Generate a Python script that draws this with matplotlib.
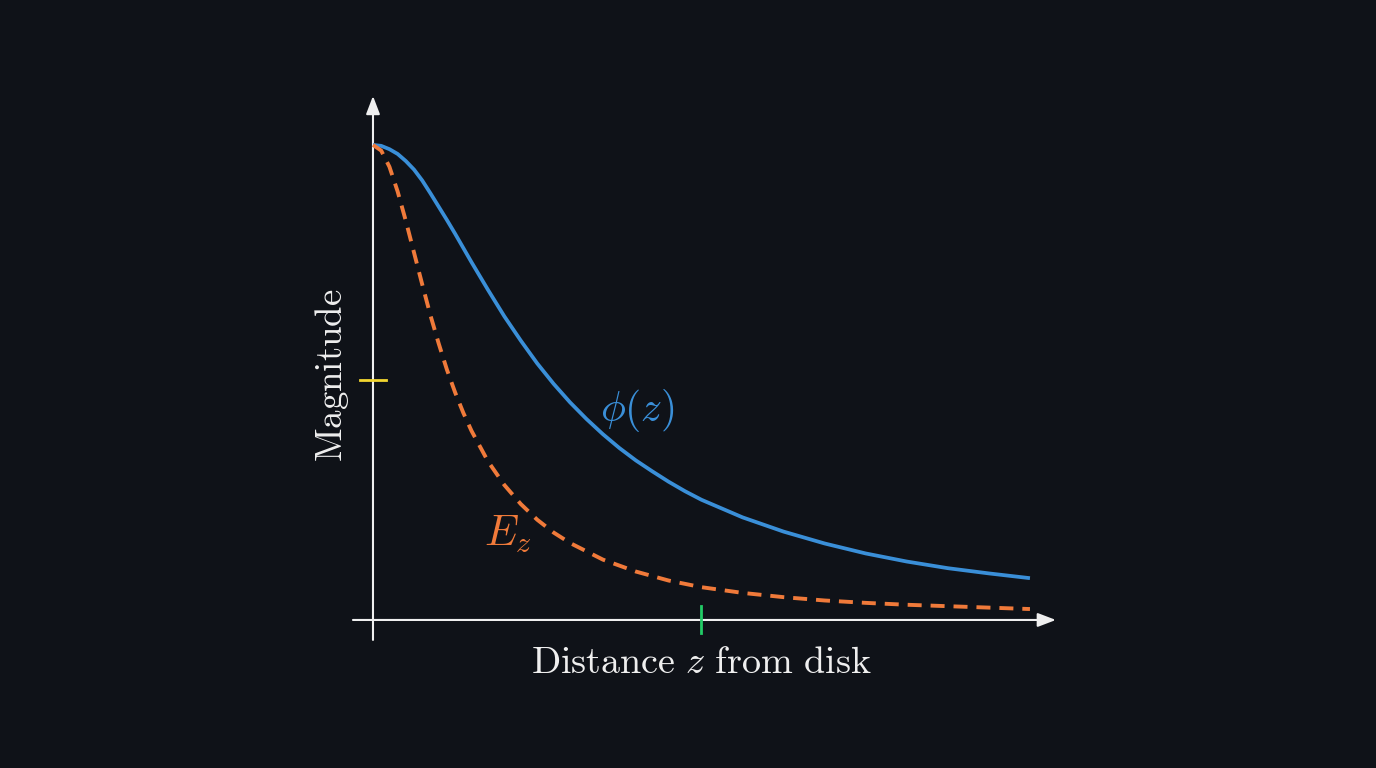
import matplotlib
matplotlib.use('Agg')
import matplotlib.pyplot as plt

plt.rcParams['mathtext.fontset'] = 'cm'

# Data (z in arbitrary units, values normalised)
z_phi = [0, 0.05, 0.1, 0.15, 0.2, 0.25, 0.3, 0.35, 0.4, 0.45, 0.5, 0.55,
         0.6, 0.7, 0.8, 0.9, 1.0, 1.1, 1.2, 1.3, 1.4, 1.5, 1.6, 1.7, 1.8,
         1.9, 2.0, 2.25, 2.5, 2.75, 3.0, 3.25, 3.5, 3.75, 4.0]
phi = [1.0, 0.998, 0.991, 0.981, 0.966, 0.948, 0.925, 0.898, 0.870, 0.842,
       0.813, 0.783, 0.753, 0.695, 0.639, 0.588, 0.540, 0.497, 0.458, 0.423,
       0.391, 0.362, 0.336, 0.313, 0.291, 0.271, 0.253, 0.216, 0.186, 0.161,
       0.140, 0.123, 0.109, 0.098, 0.088]

z_ez = [0, 0.05, 0.1, 0.15, 0.2, 0.25, 0.3, 0.35, 0.4, 0.45, 0.5, 0.55, 0.6,
        0.7, 0.8, 0.9, 1.0, 1.1, 1.2, 1.4, 1.6, 1.8, 2.0, 2.25, 2.5, 2.75,
        3.0, 3.25, 3.5, 3.75, 4.0]
ez = [1.0, 0.988, 0.954, 0.902, 0.840, 0.773, 0.706, 0.641, 0.582, 0.527,
      0.479, 0.436, 0.398, 0.334, 0.284, 0.244, 0.211, 0.184, 0.162, 0.127,
      0.102, 0.083, 0.069, 0.057, 0.048, 0.041, 0.036, 0.032, 0.029, 0.026,
      0.023]

y_mark = 0.505   # yellow tick on the magnitude axis
z_mark = 2.0     # green tick on the distance axis

BG = '#0f1218'
AXIS = '#efefef'
BLUE = '#3a8fd8'
ORANGE = '#f07a3a'

fig = plt.figure(figsize=(13.76, 7.68), dpi=100, facecolor=BG)
ax = fig.add_axes([0, 0, 1, 1], facecolor=BG)
ax.set_xlim(-2.271, 6.107)
ax.set_ylim(-0.3116, 1.305)
ax.axis('off')

# Axes with arrows
arrow = dict(arrowstyle='-|>,head_length=1.1,head_width=0.42', color=AXIS,
             lw=1.5, shrinkA=0, shrinkB=0)
ax.annotate('', xy=(4.158, 0), xytext=(-0.122, 0), arrowprops=arrow)
ax.annotate('', xy=(0, 1.103), xytext=(0, -0.042), arrowprops=arrow)

# Curves
ax.plot(z_phi, phi, color=BLUE, lw=2.7, solid_capstyle='butt',
        solid_joinstyle='round', zorder=3)
ax.plot(z_ez, ez, color=ORANGE, lw=2.8, dashes=(3.6, 2.3), zorder=3)

# Marker ticks
ax.plot([-0.08, 0.08], [y_mark, y_mark], color='#f2d630', lw=2, zorder=4)
ax.plot([z_mark, z_mark], [-0.028, 0.029], color='#22cc66', lw=2, zorder=4)

# Labels
ax.text(2.0, -0.09, r'$\mathrm{Distance}\ z\ \mathrm{from\ disk}$',
        color=AXIS, fontsize=27.5, ha='center', va='center')
ax.text(-0.25, 0.515, r'$\mathrm{Magnitude}$', color=AXIS, fontsize=26.5,
        ha='center', va='center', rotation=90)
ax.text(1.61, 0.44, r'$\phi(z)$', color=BLUE, fontsize=30,
        ha='center', va='center')
ax.text(0.82, 0.18, r'$E_z$', color=ORANGE, fontsize=31,
        ha='center', va='center')

plt.savefig('out.png', dpi=100, facecolor=BG)
plt.close()
